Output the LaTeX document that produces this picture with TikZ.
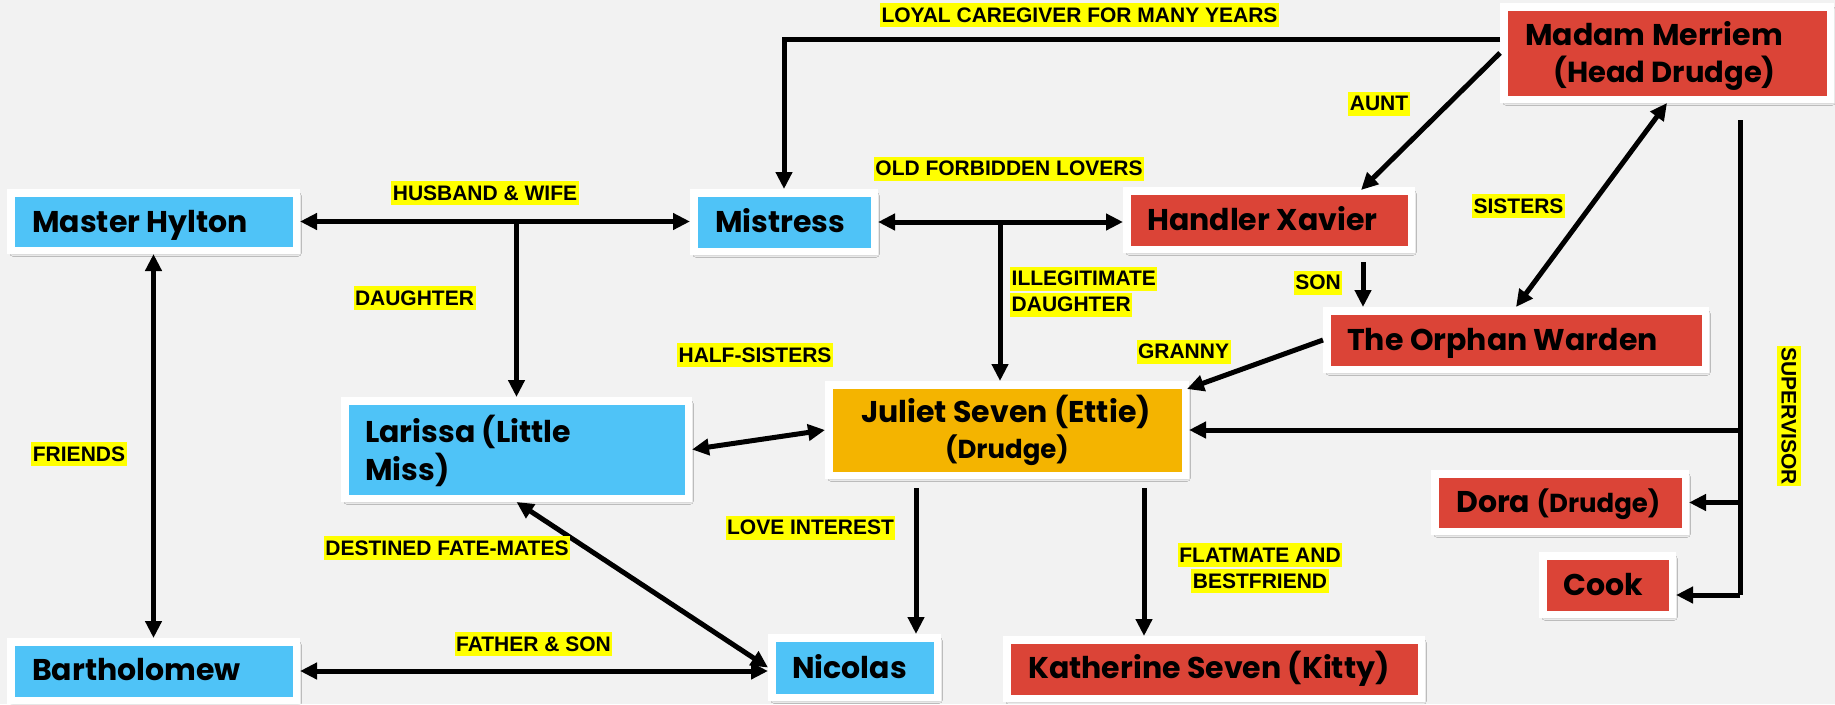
\documentclass[tikz,border=0pt]{standalone}
\usepackage{fontspec}
\setmainfont{Poppins}
\newfontfamily\nodefont{Poppins}
\newfontfamily\lblfont{Liberation Sans}
\usetikzlibrary{arrows.meta,shadows.blur,calc}
\definecolor{bg}{HTML}{F2F2F2}
\definecolor{cblue}{HTML}{4FC3F7}
\definecolor{cred}{HTML}{DB4437}
\definecolor{corange}{HTML}{F4B400}
\definecolor{cyel}{HTML}{FFFF00}
\tikzset{
  card/.style={draw=white, line width=7.5pt, inner sep=0pt,
    blur shadow={shadow xshift=2pt, shadow yshift=-3pt, shadow blur radius=3pt, shadow opacity=35}},
  bluecard/.style={card, fill=cblue},
  redcard/.style={card, fill=cred},
  orangecard/.style={card, fill=corange},
  txt/.style={font=\nodefont\bfseries\fontsize{30}{34}\selectfont, inner sep=0pt, anchor=base west},
  smalltxt/.style={font=\nodefont\bfseries\fontsize{26}{30}\selectfont},
  lbl/.style={fill=cyel, font=\lblfont\bfseries\fontsize{21}{21}\selectfont, inner xsep=1.5pt, inner ysep=4pt, text height=15pt, text depth=1pt},
  conn/.style={line width=5pt, -{Triangle[length=17pt,width=16pt]}},
  biconn/.style={line width=5pt, {Triangle[length=17pt,width=16pt]}-{Triangle[length=17pt,width=16pt]}},
  plain/.style={line width=5pt}
}
\begin{document}
\begin{tikzpicture}[x=1pt,y=-1pt]
\fill[bg] (0,0) rectangle (1835,704);
\useasboundingbox (0,0) rectangle (1835,704);

% boxes
\node[bluecard, minimum width=285.5pt, minimum height=57.5pt] (mh) at (153.5,221.5) {};
\node[bluecard, minimum width=180.5pt, minimum height=58.5pt] (mi) at (784,222) {};
\node[redcard, minimum width=284.5pt, minimum height=58.5pt] (hx) at (1269,220) {};
\node[redcard, minimum width=326.5pt, minimum height=92.5pt] (mm) at (1667,53) {};
\node[redcard, minimum width=378.5pt, minimum height=58.5pt] (ow) at (1516,340) {};
\node[orangecard, minimum width=356.5pt, minimum height=90.5pt] (js) at (1007,430) {};
\node[bluecard, minimum width=343.5pt, minimum height=97.5pt] (la) at (516.5,449.5) {};
\node[bluecard, minimum width=165.5pt, minimum height=59.5pt] (ni) at (854.5,667.5) {};
\node[redcard, minimum width=414.5pt, minimum height=58.5pt] (ks) at (1214,669) {};
\node[bluecard, minimum width=285.5pt, minimum height=58.5pt] (ba) at (153.5,671) {};
\node[redcard, minimum width=250.5pt, minimum height=57.5pt] (do) at (1560,502.5) {};
\node[redcard, minimum width=129.5pt, minimum height=58.5pt] (co) at (1607.5,585) {};

% texts
\node[txt] (mh-t) at (32,232) {Master Hylton};
\node[txt] (mi-t) at (715,232) {Mistress};
\node[txt] (hx-t) at (1147,230) {Handler Xavier};
\node[txt] (mm-t1) at (1525,45) {Madam Merriem};
\node[txt, font=\nodefont\bfseries\fontsize{29}{33}\selectfont] (mm-t2) at (1553,82) {(Head Drudge)};
\node[txt] (ow-t) at (1347,350) {The Orphan Warden};
\node[txt, anchor=base] (js-t1) at (1006,422) {Juliet Seven (Ettie)};
\node[txt, smalltxt, anchor=base] (js-t2) at (1007,458) {(Drudge)};
\node[txt] (la-t1) at (365,442) {Larissa (Little};
\node[txt] (la-t2) at (365,480) {Miss)};
\node[txt] (ni-t) at (792,678) {Nicolas};
\node[txt] (ks-t) at (1028,678) {Katherine Seven (Kitty)};
\node[txt] (ba-t) at (32,680) {Bartholomew};
\node[txt] (do-t) at (1456,512) {Dora {\fontsize{26}{30}\selectfont(Drudge)}};
\node[txt] (co-t) at (1563,595) {Cook};

% connectors
\draw[biconn] (mh.east) -- (mi.west |- mh.east);
\draw[conn] (la.north |- mh.east) -- (la.north);
\draw[biconn] (mi.east) -- (hx.west |- mi.east);
\coordinate (idl) at (1000,224);
\draw[conn] (idl) -- (idl |- js.north);
\coordinate (lc) at (1500,39);
\draw[conn] (lc) -| (mi.north);
\draw[conn] (mm.west) -- ($(hx.north east)+(-54,3)$);
\draw[biconn] (ow.north) -- (mm.south);
\coordinate (son) at (1363,262);
\draw[conn] (son) -- (son |- ow.north);
\draw[conn] (ow.west) -- ($(js.north east)+(-2,8)$);
\coordinate (sv1) at (1740,120);
\coordinate (sv2) at (1740,595);
\draw[plain] (sv1) -- (sv2);
\draw[conn] (sv1 |- js.east) -- (js.east);
\draw[conn] (sv1 |- do.east) -- (do.east);
\draw[conn] (sv2) -- (sv2 -| co.east);
\draw[biconn] (la.east) -- (js.west);
\draw[biconn] (la.south) -- (ni.west);
\coordinate (lv) at (916,488);
\draw[conn] (lv) -- (lv |- ni.north);
\coordinate (fm) at (1144,488);
\draw[conn] (fm) -- (fm |- ks.north);
\draw[biconn] (ba.east) -- (ni.west |- ba.east);
\draw[biconn] (mh.south) -- (ba.north);

% labels
\node[lbl] (l-loyal) at (1079.5,15) {LOYAL CAREGIVER FOR MANY YEARS};
\node[lbl] (l-aunt) at (1379,103.5) {AUNT};
\node[lbl] (l-old) at (1009,168.5) {OLD FORBIDDEN LOVERS};
\node[lbl] (l-hw) at (485,193) {HUSBAND \& WIFE};
\node[lbl] (l-sis) at (1518.5,206) {SISTERS};
\node[lbl, anchor=west] (l-ill1) at (1010,278.5) {ILLEGITIMATE };
\node[lbl, anchor=west] (l-ill2) at (1010,304.5) {DAUGHTER};
\node[lbl] (l-son) at (1318,282.5) {SON};
\node[lbl] (l-dau) at (414.5,298) {DAUGHTER};
\node[lbl] (l-gran) at (1183.5,351.5) {GRANNY};
\node[lbl] (l-half) at (755,355) {HALF-SISTERS};
\node[lbl] (l-fr) at (79,454) {FRIENDS};
\node[lbl, rotate=-90] (l-sup) at (1788.5,416) {SUPERVISOR};
\node[lbl] (l-love) at (810.5,527.5) {LOVE INTEREST};
\node[lbl] (l-fate) at (447,548) {DESTINED FATE-MATES};
\node[lbl] (l-flat1) at (1260,555) {FLATMATE AND };
\node[lbl] (l-flat2) at (1260,581) {BESTFRIEND};
\node[lbl] (l-fs) at (533.5,644) {FATHER \& SON};
\end{tikzpicture}
\end{document}
